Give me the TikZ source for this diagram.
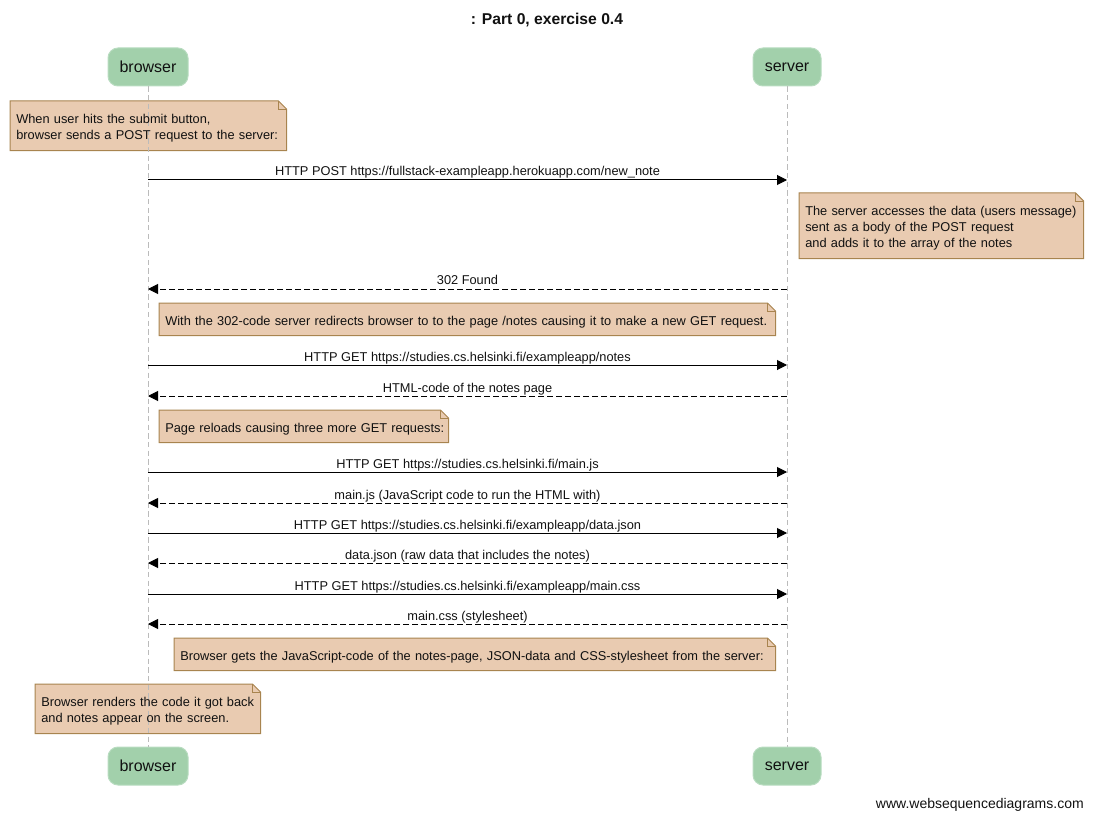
\documentclass[tikz,border=0pt]{standalone}
\usepackage{fontspec}
\setmainfont{Liberation Sans}
\usetikzlibrary{arrows.meta,backgrounds}
\definecolor{actorfill}{HTML}{A2D0AB}
\definecolor{actorline}{HTML}{B8DCC0}
\definecolor{notefill}{HTML}{E9CBB1}
\definecolor{noteline}{HTML}{A8844F}
\definecolor{lifegray}{HTML}{BBBBBB}
\definecolor{txt}{HTML}{111111}
\newcommand\foldnote[1]{%
  \begin{scope}[on background layer]
    \path[fill=notefill,draw=noteline,line width=0.75pt]
      (#1.north west) -- ([xshift=-6pt]#1.north east) -- ([yshift=-6pt]#1.north east)
      -- (#1.south east) -- (#1.south west) -- cycle;
    \draw[noteline,line width=0.6pt]
      ([xshift=-6pt]#1.north east) -- ([xshift=-6pt,yshift=-6pt]#1.north east) -- ([yshift=-6pt]#1.north east);
  \end{scope}}
\newcommand\nlines[1]{\raisebox{-2pt}[\height][\depth]{\begin{tabular}{@{}l@{}}#1\end{tabular}}}
\begin{document}
\begin{tikzpicture}[x=0.75pt,y=-0.75pt,
  actor/.style={rounded corners=7.5pt,fill=actorfill,draw=actorline,line width=0.75pt,
    minimum height=28.5pt,inner sep=0pt,font=\fontsize{12pt}{14pt}\selectfont,text=txt},
  note/.style={inner xsep=4.5pt,inner ysep=0pt,align=left,anchor=north west,
    font=\fontsize{9.6pt}{12pt}\selectfont,text=txt},
  lifeline/.style={draw=lifegray,line width=0.75pt,dash pattern=on 4pt off 2.5pt},
  msg/.style={draw=black,line width=0.75pt,-{Triangle[length=7.5pt,width=7.5pt]}},
  reply/.style={msg,dash pattern=on 4.5pt off 2.25pt},
  lbl/.style={midway,anchor=base,inner sep=0pt,yshift=3pt,font=\fontsize{9.6pt}{12pt}\selectfont,text=txt}]
\useasboundingbox (0,0) rectangle (1093,820);

\node[font=\bfseries\fontsize{11.75pt}{14pt}\selectfont,text=txt] (title) at (547,20) {: Part 0, exercise 0.4};

\node[actor,minimum width=60pt] (b1) at (148,67) {browser};
\node[actor,minimum width=51pt] (s1) at (787,67) {server};
\node[actor,minimum width=60pt] (b2) at (148,766) {browser};
\node[actor,minimum width=51pt] (s2) at (787,766) {server};

\draw[lifeline] (b1.south) -- (b2.north);
\draw[lifeline] (s1.south) -- (s2.north);

\node[note,text width=198pt,minimum height=36.75pt] (n1) at (10,101)
  {\nlines{When user hits the submit button,\\browser sends a POST request to the server:}};
\foldnote{n1}

\draw[msg] (b1 |- 0,180) -- (s1 |- 0,180)
  node[lbl] {HTTP POST https://fullstack-exampleapp.herokuapp.com/new\_note};

\node[note,text width=204pt,minimum height=48.75pt] (n2) at (799,193)
  {\nlines{The server accesses the data (users message)\\sent as a body of the POST request\\and adds it to the array of the notes}};
\foldnote{n2}

\draw[reply] (s1 |- 0,289) -- (b1 |- 0,289) node[lbl] {302 Found};

\node[note,text width=453pt,minimum height=24pt] (n3) at (159,303)
  {\nlines{With the 302-code server redirects browser to to the page /notes causing it to make a new GET request.}};
\foldnote{n3}

\draw[msg] (b1 |- 0,365) -- (s1 |- 0,365)
  node[lbl] {HTTP GET https://studies.cs.helsinki.fi/exampleapp/notes};
\draw[reply] (s1 |- 0,396) -- (b1 |- 0,396) node[lbl] {HTML-code of the notes page};

\node[note,text width=207.75pt,minimum height=24pt] (n4) at (159,410)
  {\nlines{Page reloads causing three more GET requests:}};
\foldnote{n4}

\draw[msg] (b1 |- 0,472) -- (s1 |- 0,472)
  node[lbl] {HTTP GET https://studies.cs.helsinki.fi/main.js};
\draw[reply] (s1 |- 0,503) -- (b1 |- 0,503)
  node[lbl] {main.js (JavaScript code to run the HTML with)};
\draw[msg] (b1 |- 0,533) -- (s1 |- 0,533)
  node[lbl] {HTTP GET https://studies.cs.helsinki.fi/exampleapp/data.json};
\draw[reply] (s1 |- 0,563) -- (b1 |- 0,563)
  node[lbl] {data.json (raw data that includes the notes)};
\draw[msg] (b1 |- 0,594) -- (s1 |- 0,594)
  node[lbl] {HTTP GET https://studies.cs.helsinki.fi/exampleapp/main.css};
\draw[reply] (s1 |- 0,624) -- (b1 |- 0,624)
  node[lbl] {main.css (stylesheet)};

\node[note,text width=441.75pt,minimum height=24pt] (n5) at (174,638)
  {\nlines{Browser gets the JavaScript-code of the notes-page, JSON-data and CSS-stylesheet from the server:}};
\foldnote{n5}

\node[note,text width=159.75pt,minimum height=36.75pt] (n6) at (35,684)
  {\nlines{Browser renders the code it got back\\and notes appear on the screen.}};
\foldnote{n6}

\node[anchor=east,inner sep=0pt,font=\fontsize{10.5pt}{12pt}\selectfont,text=txt] (footer) at (1084,805)
  {www.websequencediagrams.com};
\end{tikzpicture}
\end{document}
